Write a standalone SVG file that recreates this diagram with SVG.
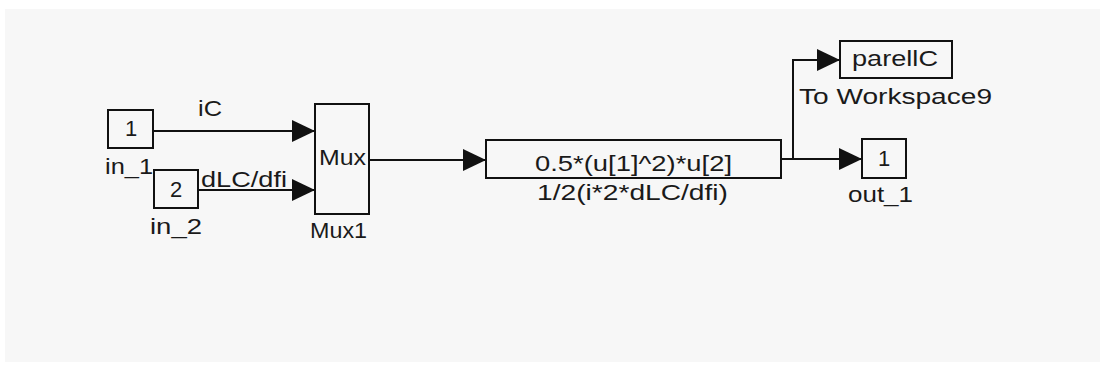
<svg xmlns="http://www.w3.org/2000/svg" width="1100" height="369" viewBox="0 0 1100 369">
  <style>
    .blk { fill: none; stroke: #111; stroke-width: 2; }
    .wire { fill: none; stroke: #111; stroke-width: 2; }
    text { font-family: "Liberation Sans", Arial, sans-serif; font-size: 22px; fill: #1a1a1a; }
    .mid { text-anchor: middle; }
  </style>
  <defs>
    <marker id="arrow" markerUnits="userSpaceOnUse" markerWidth="24" markerHeight="24" refX="23" refY="11" orient="auto">
      <path d="M0,0 L23,11 L0,22 Z" fill="#111"/>
    </marker>
  </defs>

  <!-- canvas -->
  <rect x="0" y="0" width="1100" height="369" fill="#ffffff"/>
  <rect x="5" y="9" width="1095" height="353" fill="#f7f7f7"/>

  <!-- signal lines -->
  <g id="connectors">
    <path class="wire" d="M153,131 H315" marker-end="url(#arrow)"/>
    <path class="wire" d="M198,190 H315" marker-end="url(#arrow)"/>
    <path class="wire" d="M369,160 H486" marker-end="url(#arrow)"/>
    <path class="wire" d="M781,159 H862" marker-end="url(#arrow)"/>
    <path class="wire" d="M793,159 V60 H840" marker-end="url(#arrow)"/>
    <text x="198" y="116" textLength="24" lengthAdjust="spacingAndGlyphs">iC</text>
    <text x="201" y="187" textLength="86" lengthAdjust="spacingAndGlyphs">dLC/dfi</text>
  </g>

  <g id="in_1">
    <rect class="blk" x="108" y="110" width="45" height="38"/>
    <text class="mid" x="131" y="136">1</text>
    <text x="105" y="174" textLength="48" lengthAdjust="spacingAndGlyphs">in_1</text>
  </g>

  <g id="in_2">
    <rect class="blk" x="154" y="170" width="44" height="38"/>
    <text class="mid" x="176" y="197">2</text>
    <text x="150" y="234" textLength="52" lengthAdjust="spacingAndGlyphs">in_2</text>
  </g>

  <g id="Mux1">
    <rect class="blk" x="315" y="104" width="54" height="110"/>
    <text x="319" y="165" textLength="47" lengthAdjust="spacingAndGlyphs">Mux</text>
    <text x="310" y="238" textLength="57" lengthAdjust="spacingAndGlyphs">Mux1</text>
  </g>

  <g id="Fcn">
    <rect class="blk" x="486" y="140" width="295" height="38"/>
    <text x="535" y="171" textLength="197" lengthAdjust="spacingAndGlyphs">0.5*(u[1]^2)*u[2]</text>
    <text x="537" y="200" textLength="191" lengthAdjust="spacingAndGlyphs">1/2(i*2*dLC/dfi)</text>
  </g>

  <g id="ToWorkspace9">
    <rect class="blk" x="840" y="41" width="112" height="37"/>
    <text x="852" y="66" textLength="86" lengthAdjust="spacingAndGlyphs">parellC</text>
    <text x="799" y="104" textLength="193" lengthAdjust="spacingAndGlyphs">To Workspace9</text>
  </g>

  <g id="out_1">
    <rect class="blk" x="862" y="139" width="44" height="39"/>
    <text class="mid" x="884" y="166">1</text>
    <text x="848" y="202" textLength="65" lengthAdjust="spacingAndGlyphs">out_1</text>
  </g>
</svg>
